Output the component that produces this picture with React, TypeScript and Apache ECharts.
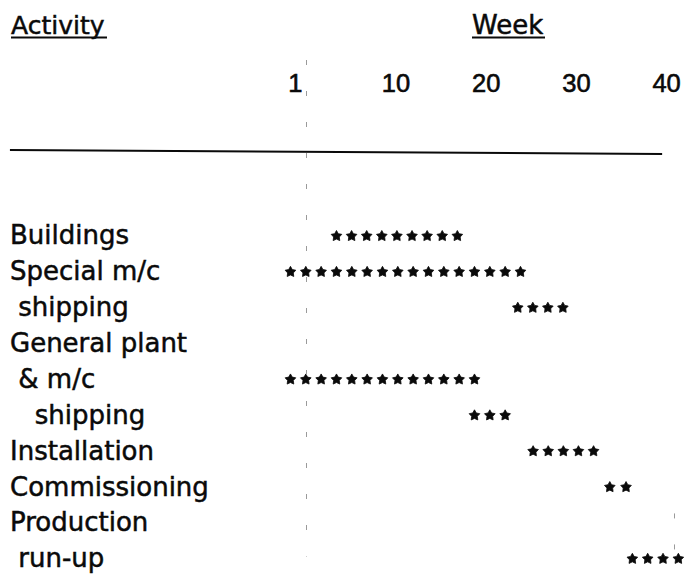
import React, { useEffect, useRef } from 'react';
import * as echarts from 'echarts';

// Activity rows (leading spaces are the original indentation)
const activities = [
  'Buildings',
  'Special m/c',
  ' shipping',
  'General plant',
  ' & m/c',
  '   shipping',
  'Installation',
  'Commissioning',
  'Production',
  ' run-up',
];

// Week axis tick values and their printed labels
const weekTicks = [0, 10, 20, 30, 40];
const weekTickLabels = ['1', '10', '20', '30', '40'];

// Asterisk runs: row index, first-star week, last-star week, number of stars
const barRows = [0, 1, 2, 4, 5, 6, 7, 9];
const barStartWeeks = [3.4, -1.7, 23.5, -1.7, 18.7, 25.2, 33.7, 36.2];
const barEndWeeks = [16.8, 23.8, 28.5, 18.7, 22.1, 31.9, 35.5, 41.3];
const starCounts = [9, 16, 4, 13, 3, 5, 2, 4];

// Reference lines (in axis units)
const startLineWeek = 0;
const endLineWeek = 40.8;

const FONT = 'DejaVu Sans';
const DIGIT_FONT = 'Liberation Sans';
const INK = '#0a0a0a';

function starPoints(cx: number, cy: number, R: number, r: number) {
  const pts: number[][] = [];
  for (let k = 0; k < 10; k++) {
    const rad = k % 2 === 0 ? R : r;
    const a = -Math.PI / 2 + (k * Math.PI) / 5;
    pts.push([cx + rad * Math.cos(a), cy + 0.6 + rad * Math.sin(a)]);
  }
  return pts;
}

const nbsp = (s: string) => s.replace(/^ +/, (m) => '\u00a0'.repeat(m.length));

export default function App() {
  const ref = useRef<HTMLDivElement>(null);

  useEffect(() => {
    document.body.style.margin = '0';
    if (!ref.current) return;
    const chart = echarts.init(ref.current, undefined, { renderer: 'svg' });

    const dashed = { type: [5, 26] as any, color: '#9a9a9a', width: 1 };

    chart.setOption({
      animation: false,
      backgroundColor: '#ffffff',
      textStyle: { fontFamily: FONT, color: INK },
      grid: { left: 0, right: 0, top: 60, bottom: 0.8, containLabel: false },
      xAxis: {
        type: 'value',
        position: 'top',
        min: -33.9,
        max: 42.48,
        axisLine: { show: false },
        axisTick: { show: false },
        splitLine: { show: false },
        axisLabel: {
          inside: true,
          margin: 23,
          verticalAlign: 'middle',
          fontFamily: DIGIT_FONT,
          fontSize: 25.5,
          color: INK,
          textBorderColor: INK,
          textBorderWidth: 0.6,
          customValues: weekTicks,
          formatter: (v: number) => {
            const i = weekTicks.indexOf(v);
            if (i < 0) return '';
            return i === 0 ? `{one|${weekTickLabels[0]}}` : weekTickLabels[i];
          },
          rich: {
            one: {
              padding: [0, 21, 0, 0],
              fontFamily: DIGIT_FONT,
              fontSize: 25.5,
              color: INK,
              textBorderColor: INK,
              textBorderWidth: 0.6,
            },
          },
        },
      },
      yAxis: {
        type: 'value',
        inverse: true,
        min: -4.893,
        max: 9.5,
        axisLine: { show: false },
        axisTick: { show: false },
        splitLine: { show: false },
        axisLabel: {
          inside: true,
          margin: 10,
          align: 'left',
          verticalAlign: 'middle',
          padding: [7, 0, 0, 0],
          fontFamily: FONT,
          fontSize: 26,
          color: INK,
          textBorderColor: INK,
          textBorderWidth: 0.5,
          customValues: activities.map((_, i) => i),
          formatter: (v: number) => (activities[v] !== undefined ? nbsp(activities[v]) : ''),
        },
      },
      graphic: [
        {
          type: 'text',
          x: 11,
          y: 25,
          style: {
            text: 'Activity',
            font: `25px "${FONT}"`,
            fill: INK,
            stroke: INK,
            lineWidth: 0.5,
            verticalAlign: 'middle',
          },
        },
        { type: 'line', shape: { x1: 11, y1: 37.5, x2: 107, y2: 37.5 }, style: { stroke: INK, lineWidth: 2 } },
        {
          type: 'text',
          x: 472,
          y: 25,
          style: {
            text: 'Week',
            font: `26px "${FONT}"`,
            fill: INK,
            stroke: INK,
            lineWidth: 0.5,
            verticalAlign: 'middle',
          },
        },
        { type: 'line', shape: { x1: 472, y1: 37.5, x2: 545, y2: 37.5 }, style: { stroke: INK, lineWidth: 2 } },
      ],
      series: [
        {
          type: 'custom',
          data: barRows.map((r, i) => [r, barStartWeeks[i], barEndWeeks[i], starCounts[i]]),
          encode: { x: [1, 2], y: 0 },
          clip: false,
          renderItem: (params: any, api: any) => {
            const row = api.value(0);
            const s = api.value(1);
            const e = api.value(2);
            const n = api.value(3);
            const p0 = api.coord([s, row]);
            const p1 = api.coord([e, row]);
            const children: any[] = [];
            for (let i = 0; i < n; i++) {
              const cx = n > 1 ? p0[0] + ((p1[0] - p0[0]) * i) / (n - 1) : p0[0];
              children.push({
                type: 'polygon',
                shape: { points: starPoints(cx, p0[1], 5.6, 3.0) },
                style: { fill: INK, stroke: INK, lineWidth: 0.8, lineJoin: 'round' },
              });
            }
            return { type: 'group', children };
          },
          markLine: {
            silent: true,
            symbol: ['none', 'none'],
            label: { show: false },
            data: [
              [
                { coord: [startLineWeek, -4.893], lineStyle: dashed },
                { coord: [startLineWeek, 8.95] },
              ],
              [
                { coord: [endLineWeek, 7.75], lineStyle: dashed },
                { coord: [endLineWeek, 8.95] },
              ],
              [
                { coord: [-32.8, -2.384], lineStyle: { type: 'solid', color: INK, width: 2 } },
                { coord: [39.5, -2.27] },
              ],
            ],
          },
        },
      ],
    });

    return () => chart.dispose();
  }, []);

  return <div ref={ref} style={{ width: 689, height: 577 }} />;
}
